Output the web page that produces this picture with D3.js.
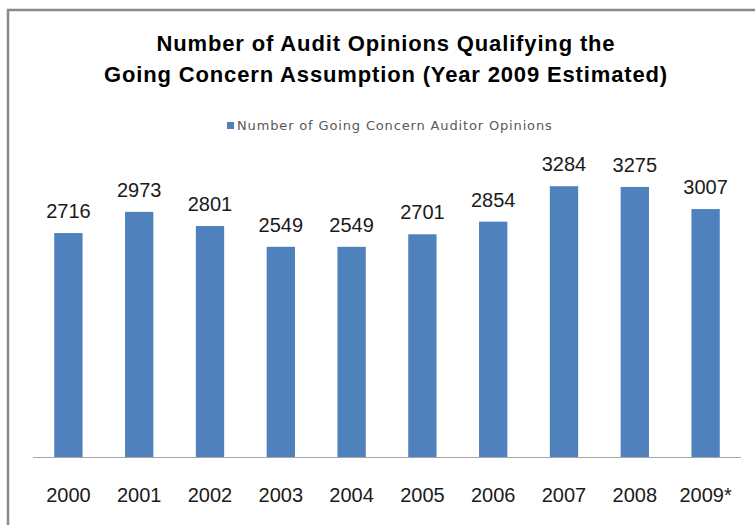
<!DOCTYPE html>
<html>
<head>
<meta charset="utf-8">
<script src="https://cdn.jsdelivr.net/npm/d3@7/dist/d3.min.js"></script>
<style>
  html, body { margin: 0; padding: 0; background: #fff; }
  svg { display: block; }
</style>
</head>
<body>
<svg id="chart" width="755" height="525"></svg>
<script>
// Going concern audit opinions per year (2009 estimated)
const years = ["2000", "2001", "2002", "2003", "2004", "2005", "2006", "2007", "2008", "2009*"];
const opinions = [2716, 2973, 2801, 2549, 2549, 2701, 2854, 3284, 3275, 3007];
const titleLines = [
  "Number of Audit Opinions Qualifying the",
  "Going Concern Assumption (Year 2009 Estimated)"
];
const seriesName = "Number of Going Concern Auditor Opinions";

const data = years.map((y, i) => ({ year: y, value: opinions[i] }));

const svg = d3.select("#chart");
const W = 755, H = 525;

// chart frame
svg.append("rect")
  .attr("x", 8).attr("y", 10)
  .attr("width", W + 20).attr("height", H + 20)
  .attr("fill", "#fff")
  .attr("stroke", "#898989")
  .attr("stroke-width", 2.5);

// title
svg.append("text")
  .attr("text-anchor", "middle")
  .attr("font-family", "Liberation Sans, Arial, sans-serif")
  .attr("font-weight", "bold")
  .attr("font-size", 22)
  .attr("letter-spacing", 0.85)
  .attr("fill", "#000")
  .selectAll("tspan")
  .data(titleLines)
  .join("tspan")
  .attr("x", 386)
  .attr("y", (d, i) => 51 + i * 31)
  .text(d => d);

// legend
const legend = svg.append("g");
legend.append("rect")
  .attr("x", 227).attr("y", 122)
  .attr("width", 7).attr("height", 7)
  .attr("fill", "#4F81BD");
legend.append("text")
  .attr("x", 237).attr("y", 129.5)
  .attr("font-family", "DejaVu Sans, sans-serif")
  .attr("font-size", 13)
  .attr("letter-spacing", 0.85)
  .attr("fill", "#595959")
  .text(seriesName);

// scales
const x = d3.scaleBand()
  .domain(years)
  .range([33, 741])
  .paddingInner(0.6)
  .paddingOuter(0.3);

const y = d3.scaleLinear()
  .domain([0, 3500])
  .range([457, 168.4]);

// bars
svg.append("g")
  .selectAll("rect")
  .data(data)
  .join("rect")
  .attr("x", d => x(d.year))
  .attr("y", d => y(d.value))
  .attr("width", x.bandwidth())
  .attr("height", d => y(0) - y(d.value))
  .attr("fill", "#4F81BD");

// value labels
svg.append("g")
  .selectAll("text")
  .data(data)
  .join("text")
  .attr("x", d => x(d.year) + x.bandwidth() / 2)
  .attr("y", d => y(d.value) - 15)
  .attr("text-anchor", "middle")
  .attr("font-family", "Liberation Sans, Arial, sans-serif")
  .attr("font-size", 20)
  .attr("fill", "#1a1a1a")
  .text(d => d.value);

// category axis
const xAxis = svg.append("g")
  .attr("transform", `translate(0,${y(0)})`)
  .call(d3.axisBottom(x).tickSize(0).tickPadding(30));
xAxis.select(".domain")
  .attr("stroke", "#a6a6a6")
  .attr("stroke-width", 1.2)
  .attr("d", "M33,0.5H741");
xAxis.selectAll(".tick text")
  .attr("font-family", "Liberation Sans, Arial, sans-serif")
  .attr("font-size", 20)
  .attr("fill", "#1a1a1a")
  .attr("dy", null)
  .attr("y", 45);
</script>
</body>
</html>
